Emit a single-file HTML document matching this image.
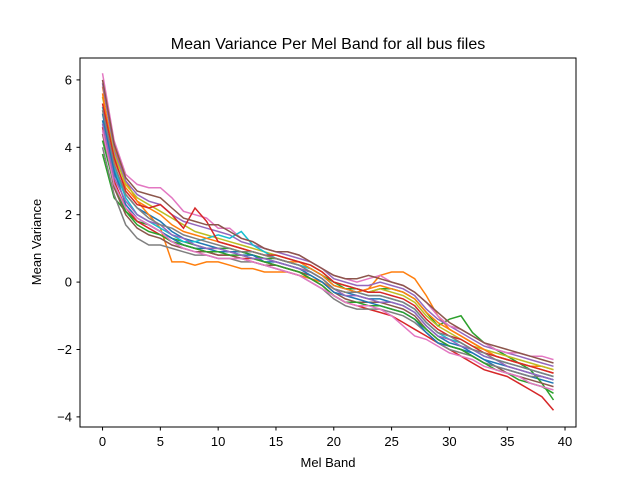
<!DOCTYPE html>
<html><head><meta charset="utf-8"><style>
body{margin:0;background:#fff;}
svg{display:block;font-family:"Liberation Sans","DejaVu Sans",sans-serif;}
</style></head><body>
<svg id="chart" width="640" height="480">
<rect width="640" height="480" fill="#fff"/>
<text x="328" y="49" font-size="16" text-anchor="middle">Mean Variance Per Mel Band for all bus files</text>
<g id="lines"></g>
<rect x="80" y="58" width="496" height="369" fill="none" stroke="#000" stroke-width="1"/>
<g id="axes"></g>
<text x="328" y="467" font-size="13" text-anchor="middle">Mel Band</text>
<text x="0" y="0" font-size="13" text-anchor="middle" transform="translate(41,242) rotate(-90)">Mean Variance</text>
</svg>
<script>
const xTicks=[0,5,10,15,20,25,30,35,40];
const yTicks=[-4,-2,0,2,4,6];
const colors=["#1f77b4","#ff7f0e","#2ca02c","#d62728","#9467bd","#8c564b","#e377c2","#7f7f7f","#bcbd22","#17becf"];
const s1=[6.2,4.2,3.2,2.9,2.8,2.8,2.5,2.1,2.0,1.9,1.6,1.6,1.3,1.2,1.0,0.9,0.9,0.8,0.6,0.4,0.2,0.1,0.0,0.1,0.2,0.0,-0.1,-0.3,-0.6,-1.0,-1.3,-1.4,-1.6,-1.8,-2.0,-2.1,-2.1,-2.2,-2.2,-2.3];
const s2=[5.8,4.0,3.0,2.4,2.0,1.6,0.6,0.6,0.5,0.6,0.6,0.5,0.4,0.4,0.3,0.3,0.3,0.2,0.1,0.0,-0.2,-0.3,-0.3,-0.2,0.2,0.3,0.3,0.1,-0.4,-1.0,-1.4,-1.6,-1.8,-2.0,-2.2,-2.3,-2.4,-2.5,-2.5,-2.6];
const s3=[4.0,2.6,1.7,1.3,1.1,1.1,1.0,0.9,0.8,0.8,0.7,0.7,0.6,0.6,0.5,0.4,0.3,0.2,0.0,-0.2,-0.5,-0.7,-0.8,-0.8,-0.8,-0.9,-1.0,-1.2,-1.5,-1.8,-2.0,-2.1,-2.2,-2.4,-2.5,-2.6,-2.7,-2.8,-2.8,-2.9];
const s4=[4.6,3.0,2.2,1.8,1.6,1.4,1.2,1.1,1.0,0.9,0.8,0.8,0.7,0.7,0.6,0.5,0.4,0.3,0.1,-0.1,-0.4,-0.6,-0.7,-0.8,-0.9,-1.0,-1.2,-1.4,-1.6,-1.8,-2.0,-2.2,-2.4,-2.6,-2.7,-2.8,-3.0,-3.2,-3.4,-3.8];
const s5=[4.8,3.2,2.6,2.2,2.0,1.8,1.5,1.3,1.2,1.1,1.0,0.9,0.9,0.8,0.7,0.6,0.5,0.4,0.3,0.1,-0.2,-0.3,-0.4,-0.5,-0.5,-0.6,-0.7,-0.9,-1.3,-1.6,-1.8,-1.9,-2.1,-2.3,-2.5,-2.6,-2.7,-2.8,-2.9,-3.0];
const s6=[3.8,2.5,2.1,1.8,1.7,1.5,1.3,1.2,1.1,1.0,1.0,1.0,0.9,0.8,0.7,0.7,0.6,0.5,0.4,0.2,0.0,-0.2,-0.2,-0.3,-0.2,-0.2,-0.3,-0.5,-0.9,-1.3,-1.1,-1.0,-1.5,-1.8,-2.0,-2.2,-2.4,-2.6,-3.0,-3.5];
const s7=[5.5,3.8,2.9,2.5,2.3,2.1,1.9,1.7,1.5,1.4,1.3,1.2,1.1,1.0,0.9,0.8,0.7,0.6,0.5,0.3,0.0,-0.1,-0.2,-0.3,-0.2,-0.3,-0.4,-0.6,-1.0,-1.3,-1.5,-1.7,-1.9,-2.0,-2.1,-2.2,-2.3,-2.4,-2.5,-2.6];
const s8=[5.2,3.4,2.5,2.0,1.8,1.6,1.4,1.2,1.2,1.3,1.4,1.3,1.5,1.1,0.9,0.7,0.6,0.5,0.4,0.2,-0.1,-0.2,-0.3,-0.4,-0.4,-0.5,-0.6,-0.8,-1.2,-1.5,-1.7,-1.8,-2.0,-2.2,-2.3,-2.4,-2.5,-2.6,-2.7,-2.8];
const s9=[4.4,2.8,2.0,1.6,1.4,1.3,1.1,1.0,0.9,0.9,0.8,0.8,0.7,0.6,0.5,0.5,0.4,0.3,0.2,0.0,-0.3,-0.5,-0.6,-0.6,-0.6,-0.7,-0.8,-1.0,-1.4,-1.7,-1.9,-2.0,-2.2,-2.4,-2.5,-2.7,-2.8,-2.9,-3.0,-3.1];
const s10=[5.9,3.9,3.0,2.6,2.4,2.3,2.0,1.8,1.7,1.6,1.5,1.4,1.2,1.1,1.0,0.9,0.8,0.7,0.6,0.4,0.1,0.0,-0.1,-0.1,0.0,-0.1,-0.2,-0.4,-0.8,-1.1,-1.3,-1.5,-1.7,-1.9,-2.0,-2.1,-2.2,-2.3,-2.4,-2.5];
const s11=[5.0,3.3,2.3,1.9,1.7,1.5,1.3,1.1,1.0,1.0,0.9,0.9,0.8,0.8,0.6,0.6,0.5,0.4,0.2,0.0,-0.3,-0.4,-0.5,-0.6,-0.7,-0.8,-0.9,-1.1,-1.5,-1.8,-1.9,-2.0,-2.1,-2.3,-2.4,-2.5,-2.6,-2.7,-2.8,-2.9];
const s12=[5.6,3.6,2.8,2.4,2.2,2.0,1.7,1.5,1.4,1.3,1.2,1.1,1.0,0.9,0.8,0.7,0.6,0.6,0.4,0.2,-0.1,-0.2,-0.3,-0.2,-0.1,-0.2,-0.3,-0.5,-0.9,-1.2,-1.4,-1.6,-1.8,-2.0,-2.2,-2.3,-2.4,-2.5,-2.6,-2.7];
const s13=[4.2,2.9,2.1,1.7,1.5,1.4,1.2,1.1,1.0,0.9,0.9,0.8,0.8,0.7,0.6,0.5,0.4,0.3,0.1,-0.1,-0.4,-0.6,-0.6,-0.7,-0.7,-0.8,-0.9,-1.1,-1.4,-1.7,-1.9,-2.0,-2.2,-2.4,-2.6,-2.7,-2.9,-3.0,-3.1,-3.3];
const s14=[5.3,3.7,2.7,2.3,2.2,2.3,2.0,1.6,2.2,1.8,1.2,1.1,1.0,0.9,0.8,0.8,0.7,0.6,0.5,0.3,0.0,-0.1,-0.2,-0.3,-0.3,-0.4,-0.5,-0.7,-1.1,-1.4,-1.6,-1.7,-1.9,-2.1,-2.2,-2.3,-2.4,-2.5,-2.6,-2.7];
const s15=[4.7,3.1,2.4,2.0,1.8,1.7,1.4,1.3,1.1,1.0,1.0,0.9,0.8,0.7,0.7,0.6,0.5,0.4,0.3,0.1,-0.2,-0.4,-0.4,-0.5,-0.6,-0.6,-0.7,-0.9,-1.3,-1.6,-1.7,-1.9,-2.0,-2.2,-2.3,-2.5,-2.6,-2.7,-2.8,-2.9];
const s16=[6.0,4.1,3.1,2.7,2.6,2.5,2.2,1.9,1.8,1.7,1.7,1.5,1.3,1.2,1.0,0.9,0.9,0.8,0.6,0.4,0.2,0.1,0.1,0.2,0.1,0.0,-0.1,-0.3,-0.6,-0.9,-1.2,-1.4,-1.6,-1.8,-1.9,-2.0,-2.1,-2.2,-2.3,-2.4];
const s17=[4.5,2.9,2.2,1.9,1.7,1.5,1.2,1.0,0.9,0.8,0.7,0.7,0.7,0.6,0.5,0.4,0.3,0.2,0.0,-0.2,-0.4,-0.6,-0.7,-0.7,-0.8,-1.0,-1.3,-1.6,-1.7,-1.9,-2.1,-2.2,-2.3,-2.5,-2.6,-2.7,-2.8,-3.0,-3.1,-3.2];
const s18=[5.1,3.5,2.6,2.2,1.9,1.7,1.6,1.4,1.3,1.2,1.1,1.0,0.9,0.9,0.8,0.7,0.6,0.5,0.3,0.1,-0.2,-0.3,-0.3,-0.4,-0.4,-0.5,-0.6,-0.8,-1.2,-1.5,-1.6,-1.8,-2.0,-2.1,-2.3,-2.4,-2.5,-2.6,-2.7,-2.8];
const series=[s5,s2,s6,s4,s10,s9,s1,s3,s7,s8,s11,s12,s13,s14,s15,s16,s17,s18];
const X=v=>80+(v+1.95)*(496/42.9);
const Y=v=>58+(6.65-v)*(369/10.95);
const NS="http://www.w3.org/2000/svg";
const lg=document.getElementById('lines');
series.forEach((s,i)=>{
  const p=document.createElementNS(NS,'polyline');
  p.setAttribute('points',s.map((v,j)=>X(j).toFixed(1)+','+Y(v).toFixed(1)).join(' '));
  p.setAttribute('fill','none');p.setAttribute('stroke',colors[i%10]);p.setAttribute('stroke-width','1.5');
  
  
  lg.appendChild(p);
});
const ax=document.getElementById('axes');
xTicks.forEach(t=>{
  const l=document.createElementNS(NS,'line');
  l.setAttribute('x1',X(t));l.setAttribute('x2',X(t));l.setAttribute('y1',427);l.setAttribute('y2',430.5);l.setAttribute('stroke','#000');
  
  
  ax.appendChild(l);
  const tx=document.createElementNS(NS,'text');
  tx.setAttribute('x',X(t));tx.setAttribute('y',446);tx.setAttribute('font-size','13');tx.setAttribute('text-anchor','middle');tx.textContent=t;
  
  
  ax.appendChild(tx);
});
yTicks.forEach(t=>{
  const l=document.createElementNS(NS,'line');
  l.setAttribute('x1',76.5);l.setAttribute('x2',80);l.setAttribute('y1',Y(t));l.setAttribute('y2',Y(t));l.setAttribute('stroke','#000');
  
  
  ax.appendChild(l);
  const tx=document.createElementNS(NS,'text');
  tx.setAttribute('x',72);tx.setAttribute('y',Y(t)+4.5);tx.setAttribute('font-size','13');tx.setAttribute('text-anchor','end');tx.textContent=(t<0?'\u2212'+(-t):t);
  
  
  ax.appendChild(tx);
});
</script>
</body></html>
